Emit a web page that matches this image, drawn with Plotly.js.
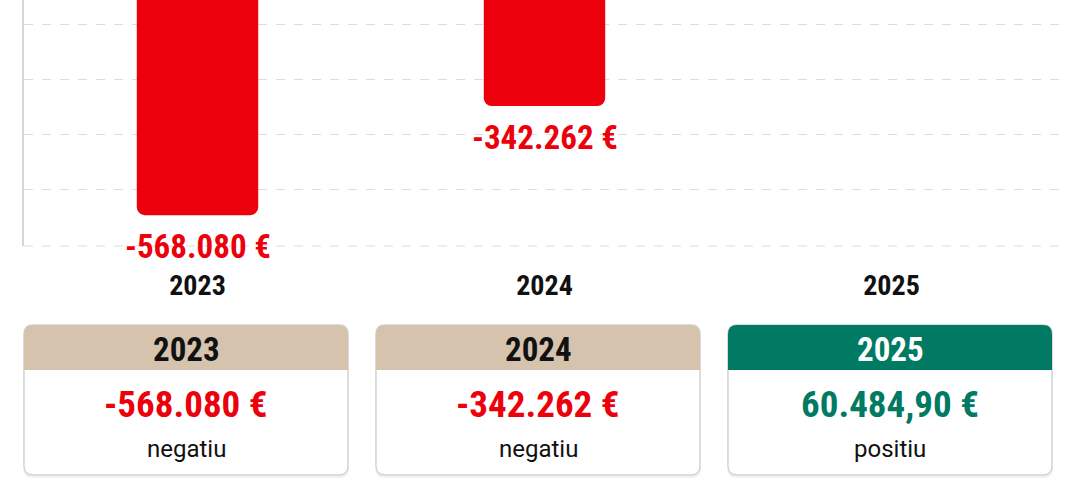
<!DOCTYPE html>
<html>
<head>
<meta charset="utf-8">
<script src="https://cdn.plot.ly/plotly-3.0.1.min.js"></script>
<style>
  html, body { margin: 0; padding: 0; background: #ffffff; }
  #chart { width: 1080px; height: 500px; }
</style>
</head>
<body>
<div id="chart"></div>
<script>
// ---- data ----
const years = ['2023', '2024', '2025'];
const results = [-568080, -342262, 60484.90];
const valueLabels = ['-568.080 €', '-342.262 €', '60.484,90 €'];
const statusLabels = ['negatiu', 'negatiu', 'positiu'];

// ---- styles ----
const RED = '#ec000b';
const GREEN = '#007a63';
const TAN = '#d5c3ae';
const COND = 'Roboto Condensed, Roboto, sans-serif';
const W = 1080, H = 500;
const px = x => x / W;
const py = y => 1 - y / H;

function roundRect(x0, y0, x1, y1, r, topOnly) {
  const P = (x, y) => px(x) + ',' + py(y);
  let d = 'M' + P(x0, y0 + r) + ' Q' + P(x0, y0) + ' ' + P(x0 + r, y0) +
          ' L' + P(x1 - r, y0) + ' Q' + P(x1, y0) + ' ' + P(x1, y0 + r);
  if (topOnly) {
    d += ' L' + P(x1, y1) + ' L' + P(x0, y1) + ' Z';
  } else {
    d += ' L' + P(x1, y1 - r) + ' Q' + P(x1, y1) + ' ' + P(x1 - r, y1) +
         ' L' + P(x0 + r, y1) + ' Q' + P(x0, y1) + ' ' + P(x0, y1 - r) + ' Z';
  }
  return d;
}

const barTrace = {
  type: 'bar',
  x: years,
  y: results,
  width: 0.35,
  marker: { color: RED, cornerradius: 8 },
  hoverinfo: 'skip',
  cliponaxis: true
};

const annotations = [];
const shapes = [];

// bottom dashed baseline of the plot area
shapes.push({ type: 'line', xref: 'x domain', yref: 'y domain', layer: 'below',
  x0: 0, x1: 1, y0: 0, y1: 0,
  line: { color: '#dcdcdc', width: 1, dash: 'dash' } });

years.forEach((yr, i) => {
  if (results[i] < 0) {
    annotations.push({
      xref: 'x', yref: 'y', x: i, y: results[i],
      yanchor: 'top', xanchor: 'center', yshift: -10,
      text: valueLabels[i], showarrow: false,
      font: { family: COND, size: 33, color: RED, weight: 'bold' }
    });
  }
  const pos = results[i] >= 0;
  const left = 24 + i * 352, right = left + 324;
  const top = 325, headBot = 370, bottom = 475;
  shapes.push({ type: 'path', xref: 'paper', yref: 'paper', layer: 'above',
    path: roundRect(left - 1, top + 1, right + 1, bottom + 3, 10, false),
    fillcolor: 'rgba(0,0,0,0.05)', line: { width: 0 } });
  shapes.push({ type: 'path', xref: 'paper', yref: 'paper', layer: 'above',
    path: roundRect(left, top, right, bottom, 9, false),
    fillcolor: '#ffffff', line: { color: '#d4d4d4', width: 1.5 } });
  shapes.push({ type: 'path', xref: 'paper', yref: 'paper', layer: 'above',
    path: roundRect(left, top, right, headBot, 9, true),
    fillcolor: pos ? GREEN : TAN, line: { width: 0 } });
  const cx = px((left + right) / 2);
  annotations.push({ xref: 'paper', yref: 'paper', x: cx, y: py(349),
    xanchor: 'center', yanchor: 'middle', showarrow: false, text: yr,
    font: { family: COND, size: 33, weight: 'bold', color: pos ? '#ffffff' : '#111111' } });
  annotations.push({ xref: 'paper', yref: 'paper', x: cx, y: py(404),
    xanchor: 'center', yanchor: 'middle', showarrow: false, text: valueLabels[i],
    font: { family: COND, size: 37, weight: 'bold', color: pos ? GREEN : RED } });
  annotations.push({ xref: 'paper', yref: 'paper', x: cx, y: py(449),
    xanchor: 'center', yanchor: 'middle', showarrow: false, text: statusLabels[i],
    font: { family: 'Roboto, Noto Sans, sans-serif', size: 24, color: '#111111' } });
});

const layout = {
  width: W, height: H,
  margin: { l: 0, r: 0, t: 0, b: 0 },
  paper_bgcolor: '#ffffff',
  plot_bgcolor: '#ffffff',
  showlegend: false,
  xaxis: {
    domain: [24 / W, 1065 / W],
    type: 'category',
    range: [-0.5, 2.5],
    autorange: false,
    showgrid: false, zeroline: false, showline: false,
    ticks: '', ticklabelstandoff: 20,
    tickfont: { family: COND, size: 28, weight: 'bold', color: '#111111' }
  },
  yaxis: {
    domain: [(H - 246) / H, 1],
    range: [-632000, -122500],
    autorange: false,
    tick0: -630000, dtick: 114000,
    showticklabels: false, ticks: '',
    showgrid: true, gridcolor: '#dcdcdc', griddash: 'dash', gridwidth: 1,
    zeroline: false,
    showline: true, linecolor: '#d6d6d6', linewidth: 2
  },
  shapes: shapes,
  annotations: annotations
};

Plotly.newPlot('chart', [barTrace], layout, { displayModeBar: false, staticPlot: true });
</script>
</body>
</html>
